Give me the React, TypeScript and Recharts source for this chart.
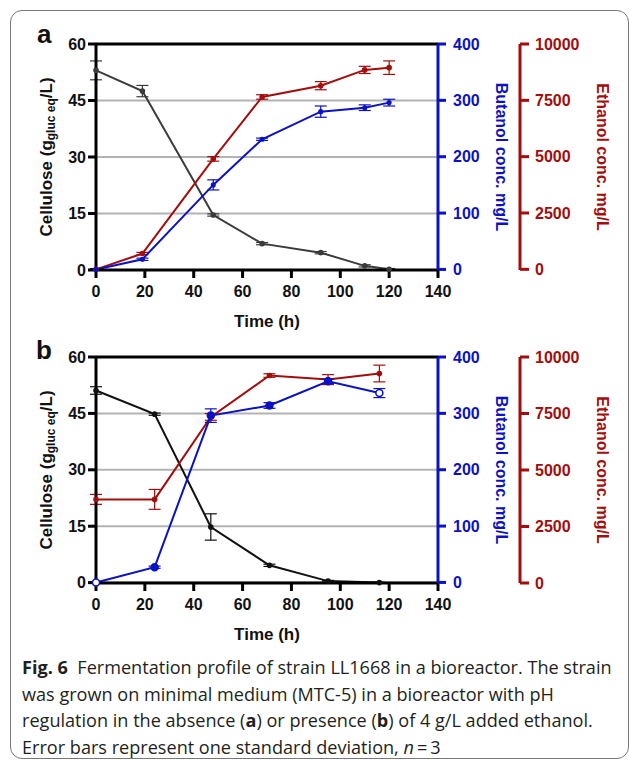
import React from "react";
import {
  ComposedChart,
  Line,
  XAxis,
  YAxis,
  CartesianGrid,
  ReferenceLine,
  ErrorBar,
} from "recharts";

// tick labels
const xTicks = [0, 20, 40, 60, 80, 100, 120, 140];
const celluloseTicks = [0, 15, 30, 45, 60];
const butanolTicks = [0, 100, 200, 300, 400];
const ethanolTicks = [0, 2500, 5000, 7500, 10000];

// panel a: no ethanol added
const timeA = [0, 19, 48, 68, 92, 110, 120];
const celluloseA = [53, 47.5, 14.6, 7.0, 4.6, 1.1, 0.2];
const celluloseErrA = [2.5, 1.5, 0.3, 0.3, 0.3, 0.3, 0.2];
const butanolA = [0, 18, 150, 231, 280, 287, 296];
const butanolErrA = [1, 2, 9, 2, 10, 5, 6];
const ethanolA = [0, 700, 4900, 7650, 8150, 8850, 8950];
const ethanolErrA = [30, 50, 100, 100, 180, 160, 300];

// panel b: 4 g/L ethanol added
const timeB = [0, 24, 47, 71, 95, 116];
const celluloseB = [51.1, 44.8, 14.8, 4.6, 0.4, 0];
const celluloseErrB = [1, 0.3, 3.5, 0.3, 0.2, 0.1];
const butanolB = [0, 27, 296, 314, 357, 336];
const butanolErrB = [1, 2, 12, 5, 4, 8];
const ethanolB = [3700, 3700, 7350, 9180, 9000, 9270];
const ethanolErrB = [220, 440, 150, 80, 220, 370];

const FONT = "'Liberation Sans', Arial, sans-serif";
const BLUE = "#0b12c4";
const RED = "#a30d0d";

type Row = {
  t: number;
  cel: number;
  celE: number;
  but: number;
  butE: number;
  eth: number;
  ethE: number;
};

function buildRows(
  time: number[],
  cel: number[],
  celE: number[],
  but: number[],
  butE: number[],
  eth: number[],
  ethE: number[]
): Row[] {
  return time.map((t, i) => ({
    t,
    cel: cel[i],
    celE: celE[i],
    but: but[i],
    butE: butE[i],
    eth: eth[i],
    ethE: ethE[i],
  }));
}

const rowsA = buildRows(timeA, celluloseA, celluloseErrA, butanolA, butanolErrA, ethanolA, ethanolErrA);
const rowsB = buildRows(timeB, celluloseB, celluloseErrB, butanolB, butanolErrB, ethanolB, ethanolErrB);

const tickStyle = (fill: string) => ({
  fill,
  fontSize: 16,
  fontWeight: 700,
  fontFamily: FONT,
});

const CelluloseLabel = (props: any) => {
  const { viewBox } = props;
  const cx = viewBox.x + 46;
  const cy = viewBox.y + viewBox.height / 2;
  return (
    <text
      x={cx}
      y={cy}
      transform={`rotate(-90 ${cx} ${cy})`}
      textAnchor="middle"
      dominantBaseline="central"
      fill="#111"
      fontFamily={FONT}
      fontWeight={700}
      fontSize={17}
    >
      Cellulose (g
      <tspan fontSize={12} dy={5}>
        gluc eq
      </tspan>
      <tspan dy={-5}>/L)</tspan>
    </text>
  );
};

const sideLabel = (text: string, color: string, dx: number) => (props: any) => {
  const { viewBox } = props;
  const cx = viewBox.x + dx;
  const cy = viewBox.y + viewBox.height / 2;
  return (
    <text
      x={cx}
      y={cy}
      transform={`rotate(90 ${cx} ${cy})`}
      textAnchor="middle"
      dominantBaseline="central"
      fill={color}
      fontFamily={FONT}
      fontWeight={700}
      fontSize={16}
    >
      {text}
    </text>
  );
};

const TimeLabel = (props: any) => {
  const { viewBox } = props;
  return (
    <text
      x={viewBox.x + viewBox.width / 2}
      y={viewBox.y + 51}
      textAnchor="middle"
      dominantBaseline="central"
      fill="#111"
      fontFamily={FONT}
      fontWeight={700}
      fontSize={17}
    >
      Time (h)
    </text>
  );
};

function Panel({
  rows,
  celColor,
  butDot,
}: {
  rows: Row[];
  celColor: string;
  butDot: number;
}) {
  const last = rows.length - 1;
  const blueDot = (p: any) => {
    const open = butDot > 2 && (p.index === 0 || p.index === last);
    return (
      <circle
        key={`bd-${p.index}`}
        cx={p.cx}
        cy={p.cy}
        r={butDot}
        fill={open ? "#fff" : BLUE}
        stroke={BLUE}
        strokeWidth={1.5}
      />
    );
  };
  return (
    <ComposedChart
      width={629}
      height={335}
      data={rows}
      margin={{ top: 44, right: 0, bottom: 0, left: 0 }}
    >
      <CartesianGrid
        yAxisId="cel"
        vertical={false}
        stroke="#b3b3b3"
        strokeWidth={2}
      />
      <XAxis
        dataKey="t"
        type="number"
        domain={[0, 140]}
        ticks={xTicks}
        interval={0}
        height={65}
        tickSize={8}
        tickMargin={8}
        tick={tickStyle("#111")}
        axisLine={{ stroke: "#000", strokeWidth: 3 }}
        tickLine={{ stroke: "#000", strokeWidth: 3 }}
        label={{ content: TimeLabel }}
      />
      <YAxis
        yAxisId="cel"
        orientation="left"
        domain={[0, 60]}
        ticks={celluloseTicks}
        interval={0}
        width={96}
        tickSize={8}
        tickMargin={2}
        tick={tickStyle("#111")}
        axisLine={{ stroke: "#000", strokeWidth: 3 }}
        tickLine={{ stroke: "#000", strokeWidth: 3 }}
        label={{ content: CelluloseLabel }}
      />
      <YAxis
        yAxisId="but"
        orientation="right"
        domain={[0, 400]}
        ticks={butanolTicks}
        interval={0}
        width={82}
        tickSize={8}
        tickMargin={7}
        tick={tickStyle(BLUE)}
        axisLine={{ stroke: BLUE, strokeWidth: 3 }}
        tickLine={{ stroke: BLUE, strokeWidth: 3 }}
        label={{ content: sideLabel("Butanol conc. mg/L", BLUE, 63) }}
      />
      <YAxis
        yAxisId="eth"
        orientation="right"
        domain={[0, 10000]}
        ticks={ethanolTicks}
        interval={0}
        width={109}
        tickSize={9}
        tickMargin={6}
        tick={tickStyle(RED)}
        axisLine={{ stroke: RED, strokeWidth: 3 }}
        tickLine={{ stroke: RED, strokeWidth: 3 }}
        label={{ content: sideLabel("Ethanol conc. mg/L", RED, 82) }}
      />
      <ReferenceLine yAxisId="cel" y={60} stroke="#000" strokeWidth={3} />
      <Line
        yAxisId="cel"
        dataKey="cel"
        type="linear"
        stroke={celColor}
        strokeWidth={2}
        dot={{ r: 1.8, fill: celColor, stroke: celColor }}
        activeDot={false}
        isAnimationActive={false}
      >
        <ErrorBar dataKey="celE" width={6} stroke={celColor} strokeWidth={1.2} direction="y" isAnimationActive={false} />
      </Line>
      <Line
        yAxisId="eth"
        dataKey="eth"
        type="linear"
        stroke={RED}
        strokeWidth={2}
        dot={{ r: 1.8, fill: RED, stroke: RED }}
        activeDot={false}
        isAnimationActive={false}
      >
        <ErrorBar dataKey="ethE" width={6} stroke={RED} strokeWidth={1.2} direction="y" isAnimationActive={false} />
      </Line>
      <Line
        yAxisId="but"
        dataKey="but"
        type="linear"
        stroke={BLUE}
        strokeWidth={2}
        dot={blueDot}
        activeDot={false}
        isAnimationActive={false}
      >
        <ErrorBar dataKey="butE" width={6} stroke={BLUE} strokeWidth={1.2} direction="y" isAnimationActive={false} />
      </Line>
    </ComposedChart>
  );
}

const letterStyle: React.CSSProperties = {
  position: "absolute",
  fontFamily: FONT,
  fontWeight: 700,
  fontSize: 26,
  lineHeight: "26px",
  color: "#111",
};

export default function App() {
  return (
    <div style={{ position: "absolute", left: 0, top: 0, width: 629, height: 761, background: "#fff", overflow: "hidden" }}>
      <div
        style={{
          position: "absolute",
          left: 10,
          top: 10,
          width: 619,
          height: 749,
          border: "1.5px solid #777",
          borderRadius: 12,
          boxSizing: "border-box",
        }}
      />
      <div style={{ position: "absolute", left: 0, top: 0 }}>
        <Panel rows={rowsA} celColor="#3b3b3b" butDot={1.8} />
      </div>
      <div style={{ position: "absolute", left: 0, top: 313 }}>
        <Panel rows={rowsB} celColor="#111" butDot={3.5} />
      </div>
      <div style={{ ...letterStyle, left: 37, top: 21 }}>a</div>
      <div style={{ ...letterStyle, left: 36, top: 337 }}>b</div>
      <div
        style={{
          position: "absolute",
          left: 22,
          top: 654,
          fontFamily: "'Open Sans', sans-serif",
          fontSize: 18.1,
          lineHeight: "26.7px",
          color: "#231f20",
          whiteSpace: "nowrap",
        }}
      >
        <div>
          <b>Fig. 6</b>&nbsp;&nbsp;Fermentation profile of strain LL1668 in a bioreactor. The strain
        </div>
        <div>was grown on minimal medium (MTC-5) in a bioreactor with pH</div>
        <div>
          regulation in the absence (<b>a</b>) or presence (<b>b</b>) of 4 g/L added ethanol.
        </div>
        <div>
          Error bars represent one standard deviation, <i>n</i>&thinsp;=&thinsp;3
        </div>
      </div>
    </div>
  );
}
